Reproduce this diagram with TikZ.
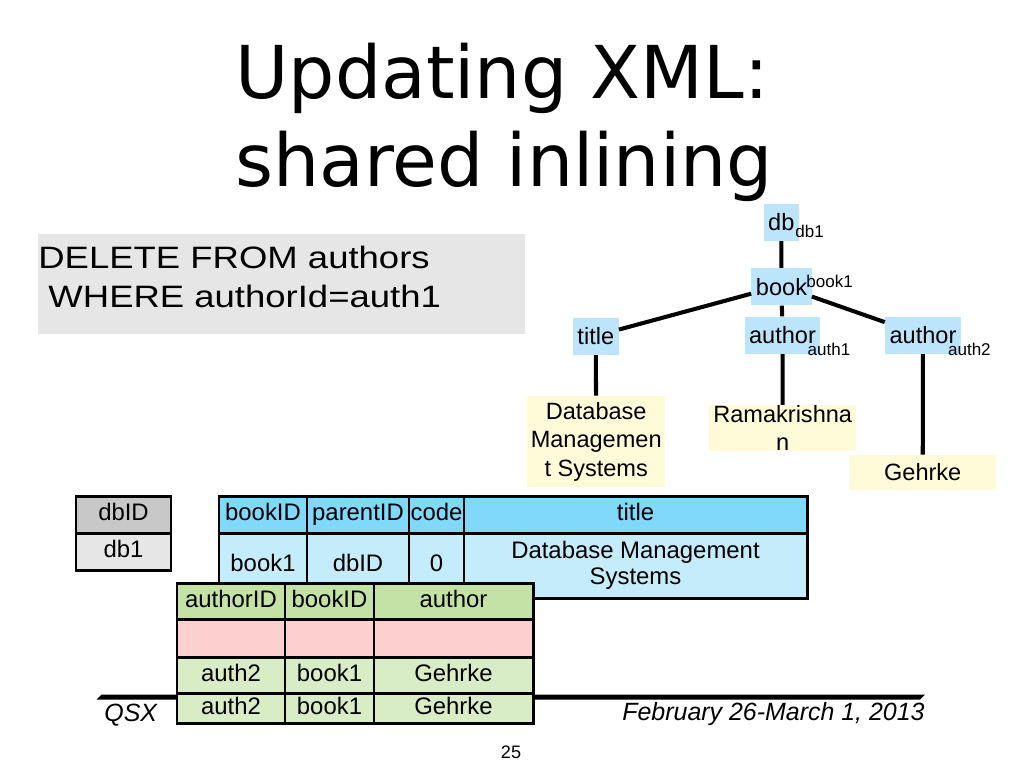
\documentclass[tikz,border=0pt]{standalone}
\usepackage{fontspec}
\setmainfont{Liberation Sans}
\newfontfamily\titlefont{DejaVu Sans}
\newfontfamily\widefont{Liberation Sans}[FakeStretch=1.18]
\usepackage{xcolor}
\usepackage{tikz}

\definecolor{tagblue}{RGB}{188,228,250}
\definecolor{valyellow}{RGB}{255,250,215}
\definecolor{qgray}{RGB}{230,230,230}
\definecolor{hgray}{RGB}{200,200,200}
\definecolor{hdblue}{RGB}{128,216,250}
\definecolor{bdblue}{RGB}{197,236,250}
\definecolor{hdgreen}{RGB}{196,226,166}
\definecolor{bdgreen}{RGB}{216,236,198}
\definecolor{delpink}{RGB}{252,208,206}

\begin{document}
\begin{tikzpicture}[x=0.02cm, y=-0.02cm,
    tag/.style={fill=tagblue, inner xsep=0.09cm, inner ysep=0pt,
      minimum height=0.74cm, font=\fontsize{13.4}{16}\selectfont},
    idx/.style={inner sep=0pt, anchor=base west, font=\fontsize{9.7}{11}\selectfont},
    val/.style={fill=valyellow, inner sep=0pt, align=center,
      font=\fontsize{13.4}{16.1}\selectfont},
    link/.style={line width=2.3pt},
    tcell/.style={line width=1.7pt},
    txt/.style={inner sep=0pt, align=center, font=\fontsize{13.6}{14.8}\selectfont},
    txt1/.style={txt, text height=9.9pt, text depth=2.9pt},
    foot/.style={inner sep=0pt, font=\itshape\fontsize{14.2}{16}\selectfont}]
        \useasboundingbox (0,0) rectangle (1024,768);

        % Titolo
        \node[anchor=base west, inner sep=0pt, font=\titlefont\fontsize{41.5}{50}\selectfont]
          (ttl1) at (235,98.3) {Updating XML:};
        \node[anchor=base west, inner sep=0pt, font=\titlefont\fontsize{41.5}{50}\selectfont]
          (ttl2) at (235,186.7) {shared inlining};

        % Query
        \fill[qgray] (38,234) rectangle (525,334);
        \node[anchor=north west, inner sep=0pt, align=left,
          font=\widefont\fontsize{17.6}{22.5}\selectfont]
          (query) at (38,245.6) {DELETE FROM authors\\\ WHERE authorId=auth1};

        % Albero XML
        \node[tag] (db) at (781.3,222.3) {db};
        \node[idx] (dbi) at (795,237.3) {db1};
        \node[tag] (book) at (781.5,286.7) {book};
        \node[idx] (booki) at (806,287.3) {book1};
        \node[tag] (title) at (595.8,336.2) {title};
        \node[tag] (auth1) at (782.5,335.3) {author};
        \node[idx] (a1i) at (807.3,355) {auth1};
        \node[tag] (auth2) at (923,335.3) {author};
        \node[idx] (a2i) at (947.7,355) {auth2};

        % Valori
        \node[val, minimum width=2.75cm, minimum height=1.83cm]
          (vtitle) at (596.2,441.7) {Database\\Managemen\\t Systems};
        \node[val, minimum width=2.93cm, minimum height=0.82cm]
          (vram) at (782.7,428) {Ramakrishna\\n};
        \node[val, minimum width=2.93cm, minimum height=0.7cm]
          (vgeh) at (922.7,472.5) {Gehrke};

        % Archi
        \draw[link] (db) -- (book);
        \draw[link] (book.193) -- (title.16);
        \draw[link] (book) -- (auth1);
        \draw[link] (book.-18) -- (auth2.161);
        \draw[link] (title) -- (vtitle);
        \draw[link] (auth1) -- (vram);
        \draw[link] (auth2) -- (vgeh);

        % Linea pie di pagina
        \fill (96.7,699.5) -- (101.7,694.5) -- (925,694.5) -- (920,699.5) -- cycle;

        % Tabella db
        \draw[tcell, fill=hgray] (76,496) rectangle node[txt1] (dbh) {dbID} (171,533);
        \draw[tcell, fill=qgray] (76,533) rectangle node[txt1] (dbv) {db1} (171,570);

        % Tabella book
        \draw[tcell, fill=hdblue] (219,496) rectangle node[txt1] (bkh1) {bookID} (307,533);
        \draw[tcell, fill=hdblue] (307,496) rectangle node[txt1] (bkh2) {parentID} (409,533);
        \draw[tcell, fill=hdblue] (409,496) rectangle node[txt1] (bkh3) {code} (464,533);
        \draw[tcell, fill=hdblue] (464,496) rectangle node[txt1] (bkh4) {title} (807,533);
        \draw[tcell, fill=bdblue] (219,533) rectangle node[txt1] (bkv1) {book1} (307,598);
        \draw[tcell, fill=bdblue] (307,533) rectangle node[txt1] (bkv2) {dbID} (409,598);
        \draw[tcell, fill=bdblue] (409,533) rectangle node[txt1] (bkv3) {0} (464,598);
        \draw[tcell, fill=bdblue] (464,533) rectangle
          node[txt] (bkv4) {Database Management\\Systems} (807,598);

        % Tabella author
        \draw[tcell, fill=hdgreen] (177,583) rectangle node[txt1] (auh1) {authorID} (285,619);
        \draw[tcell, fill=hdgreen] (285,583) rectangle node[txt1] (auh2) {bookID} (374,619);
        \draw[tcell, fill=hdgreen] (374,583) rectangle node[txt1] (auh3) {author} (533,619);
        \draw[tcell, fill=delpink] (177,619) rectangle (285,657);
        \draw[tcell, fill=delpink] (285,619) rectangle (374,657);
        \draw[tcell, fill=delpink] (374,619) rectangle (533,657);
        \draw[tcell, fill=bdgreen] (177,657) rectangle node[txt1] (aur1) {auth2} (285,693);
        \draw[tcell, fill=bdgreen] (285,657) rectangle node[txt1] (aur2) {book1} (374,693);
        \draw[tcell, fill=bdgreen] (374,657) rectangle node[txt1] (aur3) {Gehrke} (533,693);
        \draw[tcell, fill=bdgreen] (177,693) rectangle node[txt1] (aus1) {auth2} (285,723);
        \draw[tcell, fill=bdgreen] (285,693) rectangle node[txt1] (aus2) {book1} (374,723);
        \draw[tcell, fill=bdgreen] (374,693) rectangle node[txt1] (aus3) {Gehrke} (533,723);

        % Pie di pagina
        \node[foot, anchor=base west] (qsx) at (104,721.7) {QSX};
        \node[foot, anchor=base east] (date) at (925,720) {February 26-March 1, 2013};
        \node[inner sep=0pt, anchor=base, font=\fontsize{10.3}{12}\selectfont]
          (pnum) at (511,758.3) {25};
      \end{tikzpicture}
\end{document}
